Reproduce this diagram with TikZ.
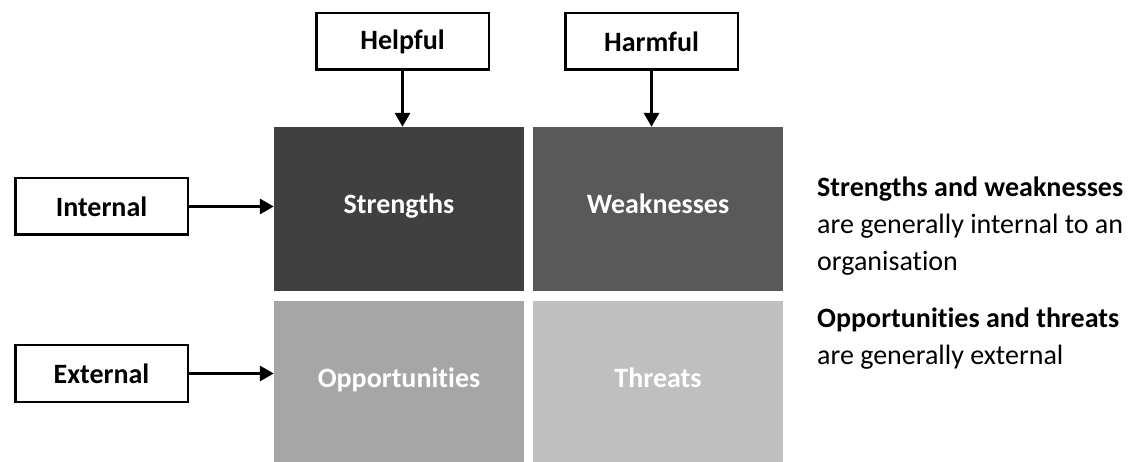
\documentclass[tikz,border=0pt]{standalone}
\usepackage{fontspec}
\setmainfont{Carlito}[Ligatures=NoCommon]
\usetikzlibrary{arrows.meta}
\definecolor{strcol}{HTML}{404040}
\definecolor{weakcol}{HTML}{595959}
\definecolor{oppcol}{HTML}{A6A6A6}
\definecolor{thrcol}{HTML}{BFBFBF}

\begin{document}
\begin{tikzpicture}[x=1pt, y=-1pt,
  every node/.style={font=\fontsize{28}{37}\selectfont},
  lab/.style={draw, line width=2.5pt, minimum width=172.5pt, minimum height=56.5pt,
    inner sep=0pt, font=\fontsize{28}{37}\selectfont\bfseries},
  quad/.style={minimum width=250pt, minimum height=164pt, inner sep=0pt,
    text=white, font=\fontsize{28}{37}\selectfont\bfseries},
  arr/.style={-{Triangle[length=14pt,width=15pt]}, line width=3.2pt}]
				\useasboundingbox (0,0) rectangle (1130,462);
				\node[lab] (helpful) at (402.5,41.5) {Helpful};
				\node[lab] (harmful) at (651.5,41.5) {Harmful};
				\node[lab] (internal) at (101.5,206.5) {Internal};
				\node[lab] (external) at (101.5,373.5) {External};
				\node[quad, fill=strcol] (str) at (399,209) {\raisebox{10pt}{Strengths}};
				\node[quad, fill=weakcol] (weak) at (658,209) {\raisebox{10pt}{Weaknesses}};
				\node[quad, fill=oppcol] (opp) at (399,383) {\raisebox{10pt}{Opportunities}};
				\node[quad, fill=thrcol] (thr) at (658,383) {\raisebox{10pt}{Threats}};
				\draw[arr] (helpful) -- (helpful |- str.north);
				\draw[arr] (harmful) -- (harmful |- weak.north);
				\draw[arr] (internal) -- (internal -| str.west);
				\draw[arr] (external) -- (external -| opp.west);
				\node[anchor=west, align=left, inner sep=0pt] (swnote) at (817,226)
					{\textbf{Strengths and weaknesses}\\are generally internal to an\\organisation};
				\node[anchor=west, align=left, inner sep=0pt] (otnote) at (817,338.5)
					{\textbf{Opportunities and threats}\\are generally external};
			\end{tikzpicture}
\end{document}
